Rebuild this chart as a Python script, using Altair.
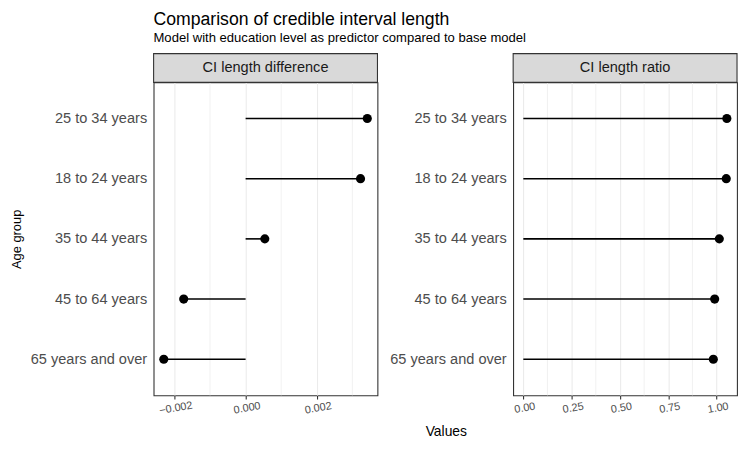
import altair as alt
import pandas as pd

groups = ["25 to 34 years", "18 to 24 years", "35 to 44 years", "45 to 64 years", "65 years and over"]
diff_values = [0.00342, 0.00323, 0.00054, -0.00174, -0.00230]
ratio_values = [1.053, 1.050, 1.014, 0.990, 0.983]
diff_major = [-0.002, 0.0, 0.002]
diff_minor = [-0.001, 0.001, 0.003]
ratio_major = [0.0, 0.25, 0.5, 0.75, 1.0]
ratio_minor = [0.125, 0.375, 0.625, 0.875]
panel_titles = ["CI length difference", "CI length ratio"]

FONT = "Liberation Sans"
W, H, STRIP = 226, 316, 29


def expand(vals):
    lo = min(min(vals), 0.0)
    hi = max(max(vals), 0.0)
    pad = (hi - lo) * 0.05
    return [lo - pad, hi + pad]


def panel(values, major, minor, fmt, strip_title, first):
    df = pd.DataFrame({"group": groups, "value": values, "zero": [0.0] * len(values)})
    xscale = alt.Scale(domain=expand(values), nice=False, zero=False)
    axis_kw = dict(
        values=major, format=fmt, grid=True, gridColor="#ebebeb", gridWidth=1.1,
        domain=False, ticks=True, tickColor="#333333", tickSize=3.7, tickWidth=1.1,
        labelFontSize=11, labelColor="#4d4d4d", labelFont=FONT, labelAngle=350,
        labelAlign="center", labelBaseline="top", labelPadding=3, labelFlush=False,
    )
    if first:
        xaxis = alt.Axis(title=None, **axis_kw)
    else:
        xaxis = alt.Axis(title="Values", titleX=-68, titleY=44, titleFontSize=14,
                         titleFont=FONT, titleColor="black", titleFontWeight="normal",
                         titleAlign="center", titleBaseline="bottom", **axis_kw)
    ykw = dict(ticks=False, domain=False, grid=False, labelFontSize=14.7,
               labelColor="#4d4d4d", labelFont=FONT, labelPadding=7, labelLimit=300)
    if first:
        yaxis = alt.Axis(title="Age group", titleFontSize=13, titleFont=FONT,
                         titleColor="black", titleFontWeight="normal", titlePadding=7, **ykw)
    else:
        yaxis = alt.Axis(title=None, **ykw)
    yenc = alt.Y("group:N", sort=groups, scale=alt.Scale(type="point", padding=0.6), axis=yaxis)

    minor_df = pd.DataFrame({"value": minor})
    minor_grid = alt.Chart(minor_df).mark_rule(color="#ededed", strokeWidth=0.8).encode(
        x=alt.X("value:Q", scale=xscale, axis=xaxis)
    )
    rules = alt.Chart(df).mark_rule(color="black", strokeWidth=1.6).encode(
        y=yenc,
        x=alt.X("zero:Q", scale=xscale, axis=xaxis),
        x2="value:Q",
    )
    points = alt.Chart(df).mark_circle(color="black", size=85, opacity=1).encode(
        y=yenc,
        x=alt.X("value:Q", scale=xscale, axis=xaxis),
    )
    sdf = pd.DataFrame({"label": [strip_title]})
    strip = alt.Chart(sdf).mark_rect(fill="#d9d9d9", stroke="#333333", strokeWidth=1.1).encode(
        x=alt.value(0), x2=alt.value(W), y=alt.value(-STRIP), y2=alt.value(0)
    )
    strip_text = alt.Chart(sdf).mark_text(
        font=FONT, fontSize=14.7, color="#1a1a1a", align="center", baseline="middle"
    ).encode(text="label:N", x=alt.value(W / 2), y=alt.value(-STRIP / 2))
    return alt.layer(minor_grid, rules, points, strip, strip_text).properties(width=W, height=H)


left = panel(diff_values, diff_major, diff_minor, ".3f", panel_titles[0], True)
right = panel(ratio_values, ratio_major, ratio_minor, ".2f", panel_titles[1], False)

chart = alt.hconcat(left, right, spacing=9).properties(
    title=alt.TitleParams(
        text="Comparison of credible interval length",
        subtitle="Model with education level as predictor compared to base model",
        anchor="start", dx=145, fontSize=17.8, subtitleFontSize=13.2,
        font=FONT, subtitleFont=FONT, color="black", subtitleColor="black",
        fontWeight="normal", offset=8, subtitlePadding=4,
    ),
    padding={"left": 1, "top": 0, "right": 0, "bottom": 0},
    background="white",
).configure_view(stroke="#333333", strokeWidth=1.1)

chart.save("out.html", embed_options={"renderer": "svg", "actions": False})
